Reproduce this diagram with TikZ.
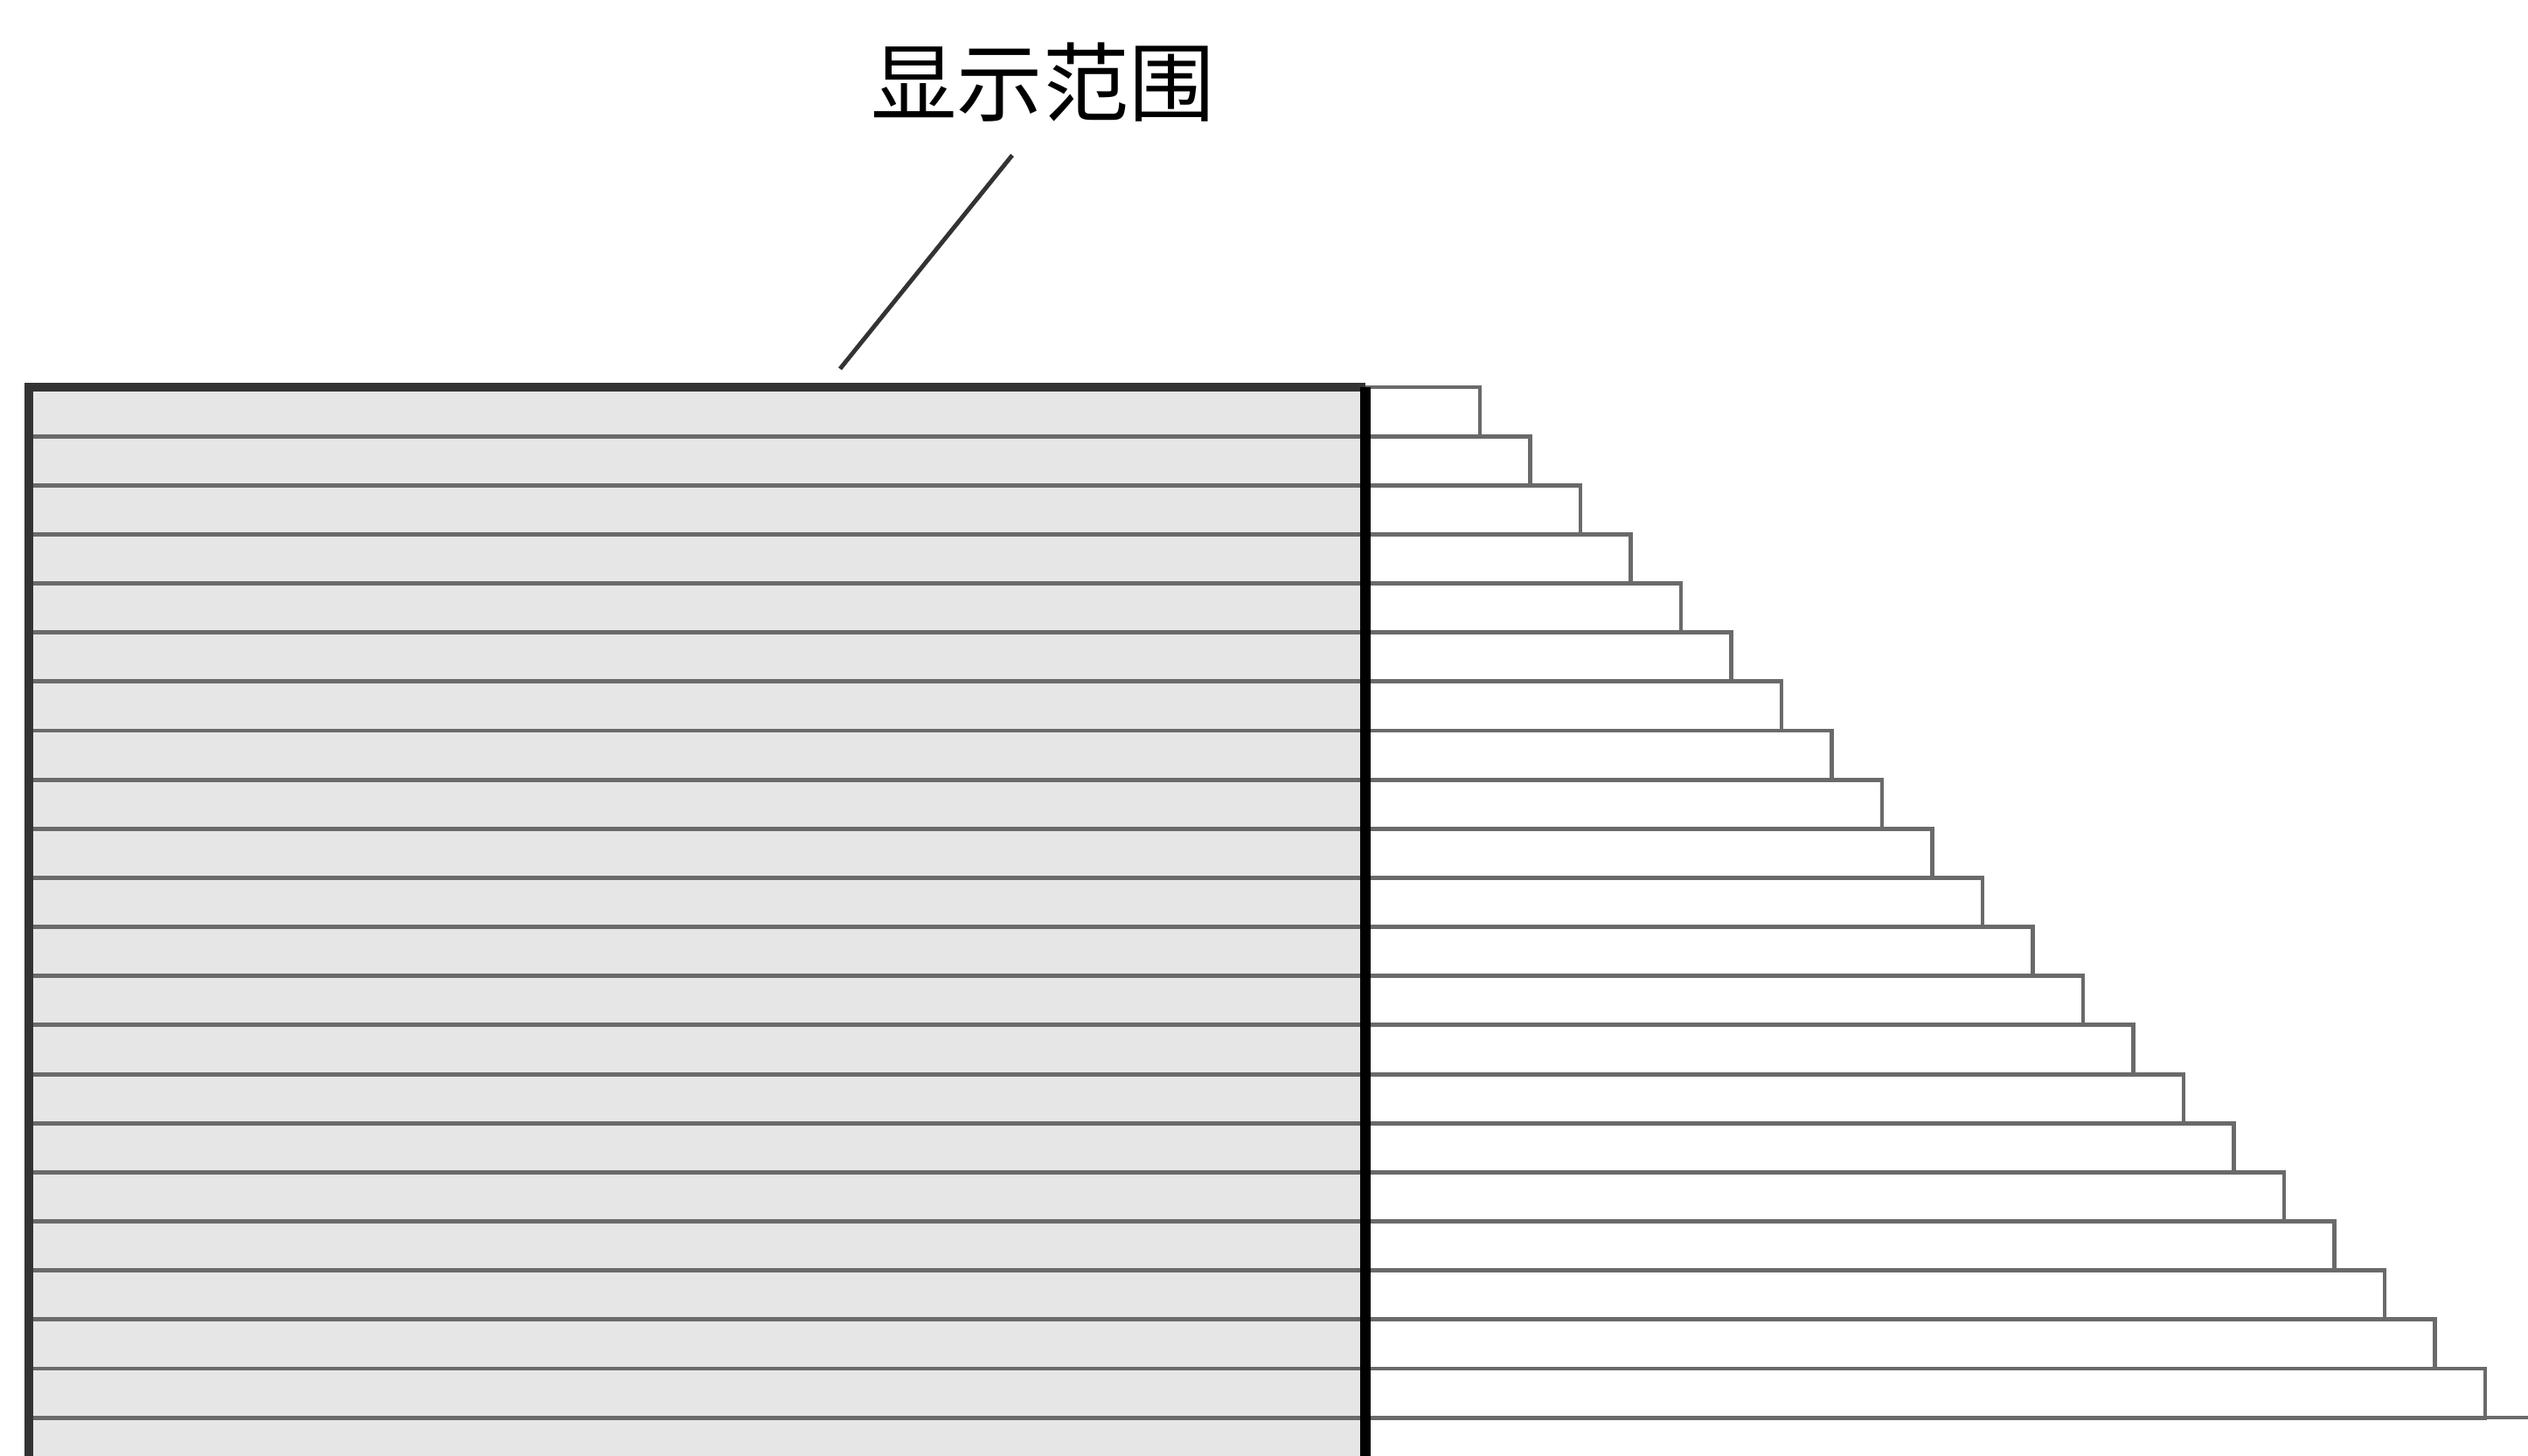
\documentclass[tikz,border=0pt]{standalone}
\usepackage{fontspec}
\newfontfamily\cjk{Noto Sans CJK SC}
\usetikzlibrary{positioning}
\definecolor{rangeGrey}{HTML}{E6E6E6}
\definecolor{rowGrey}{HTML}{6A6A6A}
\definecolor{frameDark}{HTML}{333333}

\begin{document}
\begin{tikzpicture}[rowline/.style={rowGrey, line width=1.4pt}]
    \useasboundingbox (0,0) rectangle (28.92,16.66);
    \clip (0,0) rectangle (28.92,16.66);

    % lignes qui dépassent à droite : 21 marches
    \foreach \k in {0,...,20} {
      \draw[rowline] (15.62,{12.23-0.5615*(\k+1)}) rectangle ({16.93+0.575*\k},{12.23-0.5615*\k});
    }
    \draw[rowline] (15.62,0.44) -- (28.92,0.44);

    % zone affichée
    \fill[rangeGrey] (0.33,-0.5) rectangle (15.62,12.23);
    \foreach \k in {1,...,21}
      \draw[rowline] (0.33,{12.23-0.5615*\k}) -- (15.62,{12.23-0.5615*\k});
    \draw[frameDark, line width=2.8pt] (0.33,-0.5) -- (0.33,12.23) -- (15.62,12.23);
    \draw[black, line width=3.4pt] (15.62,12.23) -- (15.62,-0.5);

    % étiquette
    \node[font=\cjk\fontsize{28}{34}\selectfont] (range) at (11.93,15.72) {显示范围};
    \coordinate (rangeEdge) at (9.61,12.44);
    \draw[frameDark, line width=1.4pt] ([xshift=-3.5mm, yshift=-2.6mm]range.south) -- (rangeEdge);
\end{tikzpicture}
\end{document}
